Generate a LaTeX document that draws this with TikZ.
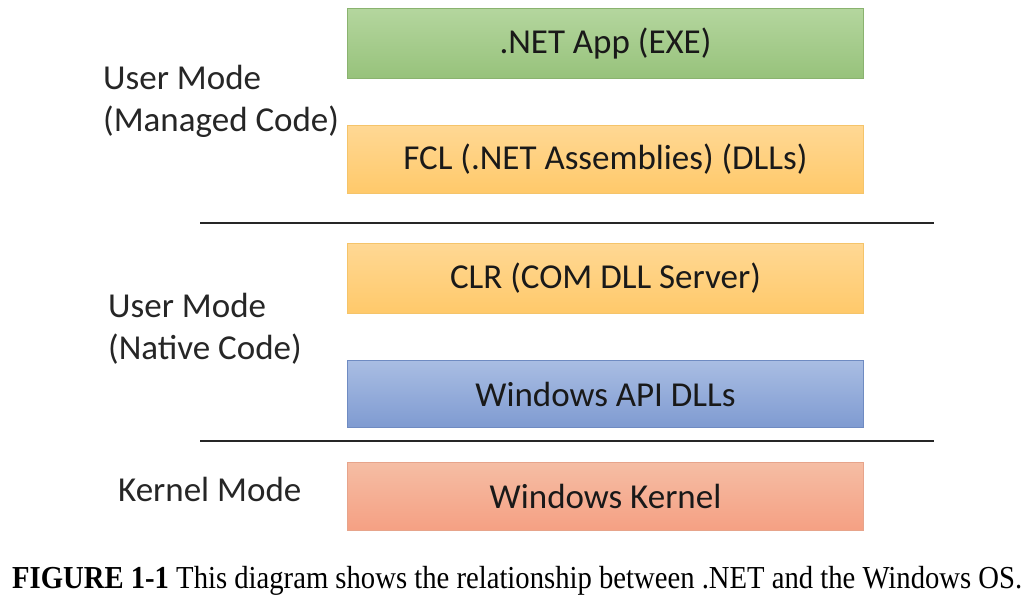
\documentclass[tikz,border=0pt]{standalone}
\usepackage{fontspec}
\setmainfont{Carlito}
\newfontfamily\capfont{Liberation Serif}
\usetikzlibrary{positioning}
\definecolor{gtop}{HTML}{B4D69E}
\definecolor{gbot}{HTML}{97C27B}
\definecolor{gdraw}{HTML}{8AB36F}
\definecolor{ytop}{HTML}{FFD894}
\definecolor{ybot}{HTML}{FFC96A}
\definecolor{ydraw}{HTML}{F5C46A}
\definecolor{btop}{HTML}{A9BDE3}
\definecolor{bbot}{HTML}{7F9BD1}
\definecolor{bdraw}{HTML}{6F8BC2}
\definecolor{rtop}{HTML}{F5BDA4}
\definecolor{rbot}{HTML}{F5A083}
\definecolor{rdraw}{HTML}{E7A48B}
\tikzset{
  layer/.style={draw=#1draw, line width=1pt, top color=#1top, bottom color=#1bot,
    minimum width=516pt, anchor=north west, inner sep=0pt,
    font=\fontsize{35}{40}\selectfont, text=black!90},
  modelabel/.style={anchor=north west, align=left, inner sep=0pt,
    font=\fontsize{35}{42}\selectfont, text=black!85},
  sep/.style={draw=black!85}
}
\begin{document}
\begin{tikzpicture}[x=1pt,y=-1pt]
\useasboundingbox[fill=white] (0,0) rectangle (1030,596);
\node[layer=g, minimum height=70pt] (app) at (347,8) {.NET App (EXE)};
\node[layer=y, minimum height=68pt] (fcl) at (347,125) {FCL (.NET Assemblies) (DLLs)};
\node[layer=y, minimum height=70pt] (clr) at (347,243) {CLR (COM DLL Server)};
\node[layer=b, minimum height=67pt] (api) at (347,360) {Windows API DLLs};
\node[layer=r, minimum height=68pt] (kern) at (347,462) {Windows Kernel};
\coordinate (l1a) at (200,223);
\coordinate (l1b) at (934,223);
\coordinate (l2a) at (200,441);
\coordinate (l2b) at (934,441);
\draw[sep, line width=1.8pt] (l1a) -- (l1b);
\draw[sep, line width=2.8pt] (l2a) -- (l2b);
\node[modelabel] (um) at (103,65) {User Mode\\(Managed Code)};
\node[modelabel] (un) at (108,293) {User Mode\\(Native Code)};
\node[modelabel] (km) at (118,477) {Kernel Mode};
\node[anchor=base west, inner sep=0pt] (cap) at (12,588)
  {\resizebox{1010pt}{\height}{\capfont\fontsize{32}{34}\selectfont\textbf{FIGURE 1-1} This diagram shows the relationship between .NET and the Windows OS.}};
\end{tikzpicture}
\end{document}
